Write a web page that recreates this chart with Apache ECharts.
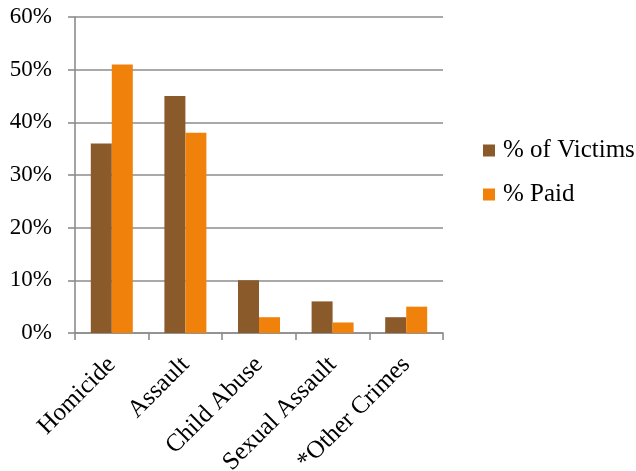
<!DOCTYPE html>
<html>
<head>
<meta charset="utf-8">
<script src="https://cdn.jsdelivr.net/npm/echarts@6/dist/echarts.min.js"></script>
<style>
html,body{margin:0;padding:0;background:#fff;}
#chart{width:636px;height:471px;}
</style>
</head>
<body>
<div id="chart"></div>
<script>
const categories = ['Homicide', 'Assault', 'Child Abuse', 'Sexual Assault', '*Other Crimes'];
const victims = [36, 45, 10, 6, 3];
const paid = [51, 38, 3, 2, 5];
const seriesNames = ['% of Victims', '% Paid'];

const FONT = '"Liberation Serif", "Times New Roman", serif';
const AXIS_COLOR = '#8c8c8c';
const LW = 1.6;
const chart = echarts.init(document.getElementById('chart'));
chart.setOption({
  animation: false,
  backgroundColor: '#ffffff',
  grid: { left: 75, top: 17, width: 368, height: 316, containLabel: false, outerBoundsMode: 'none' },
  legend: {
    orient: 'vertical',
    left: 478,
    top: 133,
    itemWidth: 12,
    itemHeight: 12,
    itemGap: 19,
    icon: 'rect',
    textStyle: { fontFamily: FONT, fontSize: 25, color: '#000', lineHeight: 24, padding: [0, 0, 0, 3] },
    data: seriesNames
  },
  xAxis: {
    type: 'category',
    data: categories,
    axisLine: { show: true, lineStyle: { color: AXIS_COLOR, width: LW } },
    axisTick: { show: true, length: 7, alignWithLabel: false, lineStyle: { color: AXIS_COLOR, width: LW } },
    axisLabel: { rotate: 45, margin: 28, fontFamily: FONT, fontSize: 25, color: '#000', interval: 0 },
    splitLine: { show: false }
  },
  yAxis: {
    type: 'value',
    min: 0,
    max: 60,
    interval: 10,
    axisLine: { show: true, lineStyle: { color: AXIS_COLOR, width: LW } },
    axisTick: { show: true, length: 7, lineStyle: { color: AXIS_COLOR, width: LW } },
    axisLabel: { margin: 23, fontFamily: FONT, fontSize: 23, color: '#000', formatter: v => v + '%' },
    splitLine: { show: true, lineStyle: { color: AXIS_COLOR, width: LW } }
  },
  series: [
    { name: seriesNames[0], type: 'bar', data: victims, barWidth: 21, barGap: '0%', itemStyle: { color: '#8B5A2B' } },
    { name: seriesNames[1], type: 'bar', data: paid, barWidth: 21, barGap: '0%', itemStyle: { color: '#F0820C' } }
  ]
});
</script>
</body>
</html>
